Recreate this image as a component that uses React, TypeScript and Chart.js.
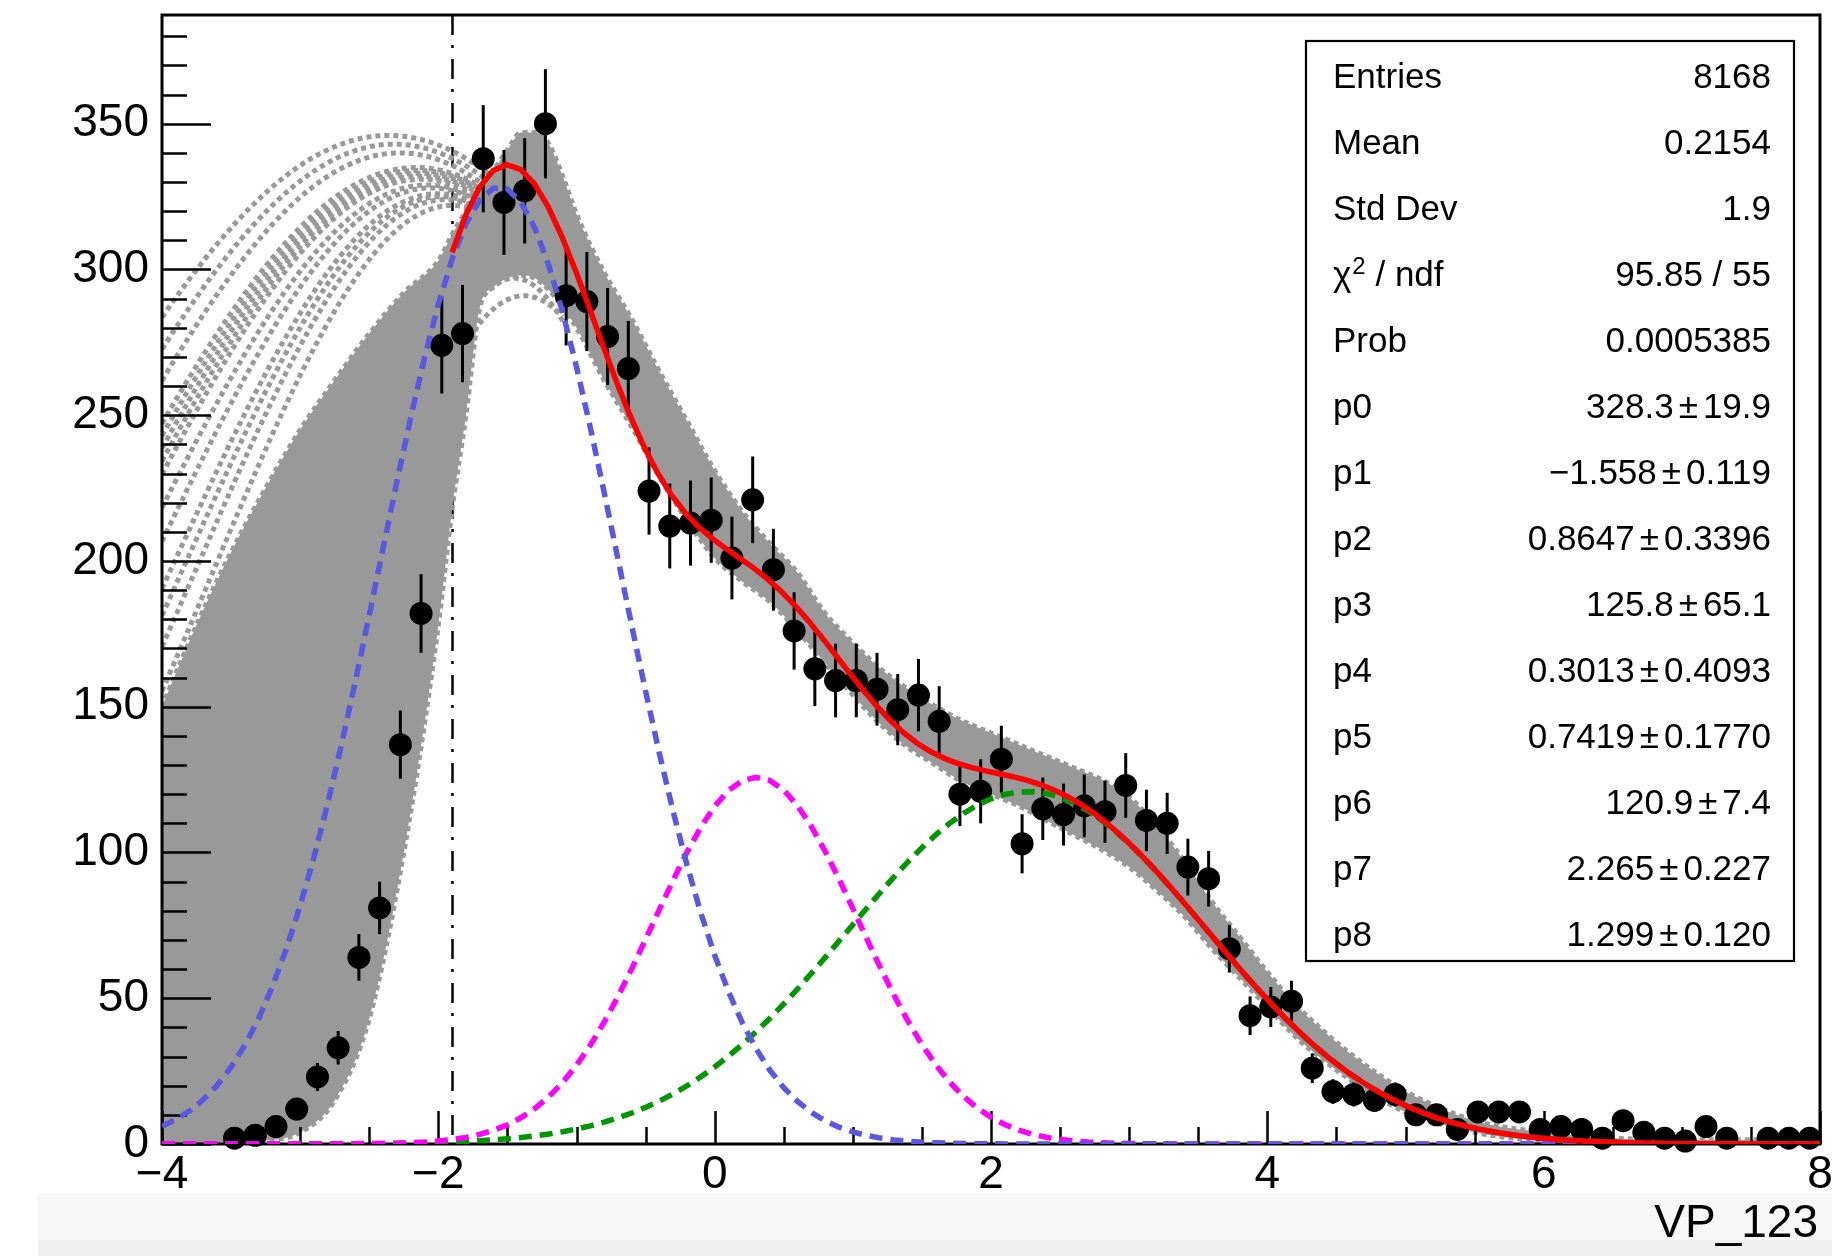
import React, { useEffect, useRef } from 'react';
import { Chart, registerables } from 'chart.js';

Chart.register(...registerables);

// ---- histogram of VP_123 -------------------------------------------------
const HIST_MIN = -4;
const HIST_MAX = 8;
const BIN_WIDTH = 0.15;
const Y_MAX = 387.3;

// entries per bin, 80 bins from -4 to 8
const binCounts = [
  0, 0, 0, 2, 3, 6, 12, 23, 33, 64,
  81, 137, 182, 274, 278, 338, 323, 327, 350, 291,
  289, 277, 266, 224, 212, 213, 214, 201, 221, 197,
  176, 163, 159, 159, 156, 149, 154, 145, 120, 121,
  132, 103, 115, 113, 116, 114, 123, 111, 110, 95,
  91, 67, 44, 47, 49, 26, 18, 17, 15, 17,
  10, 10, 5, 11, 11, 11, 5, 6, 5, 2,
  8, 4, 2, 1, 6, 2, 0, 2, 2, 2,
];

// ---- fit: three gaussians, p0..p8 ------------------------------------------
const fitParams = [328.3, -1.558, 0.8647, 125.8, 0.3013, 0.7419, 120.9, 2.265, 1.299];
const fitErrors = [19.9, 0.119, 0.3396, 65.1, 0.4093, 0.177, 7.4, 0.227, 0.12];
const fitDigits = [1, 3, 4, 1, 4, 4, 1, 3, 3];
const fitRange = [-1.9, 8];

// statistics box
const statEntries = 8168;
const statMean = '0.2154';
const statStdDev = '1.9';
const statChi2 = '95.85';
const statNdf = 55;
const statProb = '0.0005385';

// ---- spread of fit variations (grey band) ----------------------------------
const bandX = [
  -4, -3.75, -3.5, -3.25, -3, -2.75, -2.5, -2.25, -2, -1.9, -1.8, -1.7, -1.6, -1.5,
  -1.4, -1.3, -1.2, -1.1, -1.0, -0.8, -0.6, -0.4, -0.2, 0, 0.2, 0.4, 0.6, 0.8,
  1.0, 1.2, 1.4, 1.6, 1.8, 2.0, 2.2, 2.4, 2.6, 2.8, 3.0, 3.2, 3.4, 3.6, 3.8,
  4.0, 4.2, 4.4, 4.6, 4.8, 5.0, 5.5, 6.0, 6.5, 7.0, 7.5, 8.0,
];
const bandHi = [
  150, 178, 203, 225, 245, 262, 278, 292, 303, 312, 320, 327, 334, 341,
  347, 347, 343, 332, 319, 299, 283, 265, 248, 231, 217, 206, 196, 182,
  172, 163, 156, 150, 145, 141, 137, 133, 129, 125, 119, 109, 97, 83, 71,
  59, 48, 39, 31, 24, 18, 8, 4, 2, 1.5, 1.5, 1.5,
];
const bandLo = [
  0, 0, 0, 1, 4, 15, 43, 100, 178, 218, 250, 287, 294, 297,
  298, 297, 293, 287, 280, 262, 246, 229, 214, 201, 193, 186, 176, 165,
  154, 144, 136, 130, 124, 120, 116, 111, 106, 101, 95, 87, 78, 67, 57,
  47, 37, 29, 22, 16, 11, 4, 1, 0, 0, 0, 0,
];
// extrapolated variations left of the fit range: [amplitude, mean, sigma]
const fanArcs = [
  [346, -2.36, 2.6],
  [343, -2.32, 2.48],
  [340, -2.28, 2.38],
  [335, -2.16, 2.36],
  [334, -2.15, 2.32],
  [333, -2.14, 2.28],
  [332, -2.13, 2.24],
  [331, -2.12, 2.2],
  [329, -2.08, 2.12],
  [328, -2.05, 2.03],
  [326, -2.0, 1.93],
  [325, -1.98, 1.87],
  [324, -1.95, 1.81],
  [322, -1.9, 1.74],
];
const lowArcs = [
  [297, -1.45, 1.1],
  [291, -1.38, 1.25],
];

const xTickValues = [-4, -2, 0, 2, 4, 6, 8];
const yTickValues = [0, 50, 100, 150, 200, 250, 300, 350];
const X_MINOR = 0.5;
const Y_MINOR = 10;

const FONT = '"Liberation Sans", Arial, Helvetica, sans-serif';
const GREY = '#999999';

const gauss = (x: number, a: number, m: number, s: number) =>
  a * Math.exp(-0.5 * ((x - m) / s) ** 2);
const [p0, p1, p2, p3, p4, p5, p6, p7, p8] = fitParams;
const fitTotal = (x: number) => gauss(x, p0, p1, p2) + gauss(x, p3, p4, p5) + gauss(x, p6, p7, p8);

const sample = (fn: (x: number) => number, x0: number, x1: number, n: number) =>
  Array.from({ length: n + 1 }, (_, k) => {
    const x = x0 + ((x1 - x0) * k) / n;
    return { x, y: fn(x) };
  });

const minus = (s: string) => s.replace('-', '\u2212');

const binCenters = binCounts.map((_, i) => HIST_MIN + (i + 0.5) * BIN_WIDTH);
const pointData = binCounts.flatMap((c, i) => (c > 0 ? [{ x: binCenters[i], y: c }] : []));

const statRows: { label: string; value: string; err?: string }[] = [
  { label: 'Entries', value: String(statEntries) },
  { label: 'Mean', value: statMean },
  { label: 'Std Dev', value: statStdDev },
  { label: 'CHI2', value: `${statChi2} / ${statNdf}` },
  { label: 'Prob', value: statProb },
  ...fitParams.map((v, i) => ({
    label: `p${i}`,
    value: minus(v.toFixed(fitDigits[i])),
    err: fitErrors[i].toFixed(fitDigits[i]),
  })),
];

const lineBase = { showLine: true, pointRadius: 0, pointHoverRadius: 0, fill: false, tension: 0 };

function drawFrame(chart: any) {
  const { ctx, chartArea: a, scales } = chart;
  const xs = scales.x;
  const ys = scales.y;
  ctx.save();
  ctx.strokeStyle = '#000';
  ctx.lineWidth = 3;
  ctx.strokeRect(a.left, a.top, a.right - a.left, a.bottom - a.top);
  ctx.lineWidth = 2.5;
  for (let v = 0; v <= Y_MAX; v += Y_MINOR) {
    const py = Math.round(ys.getPixelForValue(v)) + 0.5;
    const len = yTickValues.includes(v) ? 49 : 25;
    ctx.beginPath();
    ctx.moveTo(a.left, py);
    ctx.lineTo(a.left + len, py);
    ctx.stroke();
  }
  for (let v = HIST_MIN; v <= HIST_MAX; v += X_MINOR) {
    const px = Math.round(xs.getPixelForValue(v)) + 0.5;
    const len = xTickValues.includes(v) ? 33 : 17;
    ctx.beginPath();
    ctx.moveTo(px, a.bottom);
    ctx.lineTo(px, a.bottom - len);
    ctx.stroke();
  }
  ctx.restore();
}

function drawErrorBars(chart: any) {
  const { ctx, scales } = chart;
  ctx.save();
  ctx.strokeStyle = '#000';
  ctx.lineWidth = 3;
  pointData.forEach((p) => {
    const e = Math.sqrt(p.y);
    const px = scales.x.getPixelForValue(p.x);
    ctx.beginPath();
    ctx.moveTo(px, scales.y.getPixelForValue(p.y + e));
    ctx.lineTo(px, scales.y.getPixelForValue(Math.max(p.y - e, 0)));
    ctx.stroke();
  });
  ctx.restore();
}

function drawStats(chart: any) {
  const { ctx } = chart;
  const box = { left: 1306, top: 41, right: 1794, bottom: 961 };
  const labelX = 1333;
  const valueRight = 1771;
  const base0 = 88.3;
  const step = 66;
  ctx.save();
  ctx.fillStyle = '#ffffff';
  ctx.fillRect(box.left, box.top, box.right - box.left, box.bottom - box.top);
  ctx.strokeStyle = '#000';
  ctx.lineWidth = 2.2;
  ctx.strokeRect(box.left, box.top, box.right - box.left, box.bottom - box.top);
  ctx.fillStyle = '#000';
  ctx.textBaseline = 'alphabetic';
  const f = `35px ${FONT}`;
  statRows.forEach((row, i) => {
    const y = base0 + i * step;
    ctx.font = f;
    ctx.textAlign = 'left';
    if (row.label === 'CHI2') {
      ctx.fillText('\u03C7', labelX, y);
      const w = ctx.measureText('\u03C7').width;
      ctx.font = `24px ${FONT}`;
      ctx.fillText('2', labelX + w + 1, y - 12);
      const w2 = ctx.measureText('2').width;
      ctx.font = f;
      ctx.fillText(' / ndf', labelX + w + w2 + 1, y);
    } else {
      ctx.fillText(row.label, labelX, y);
    }
    ctx.textAlign = 'right';
    if (row.err) {
      ctx.fillText(row.err, valueRight, y);
      const ew = ctx.measureText(row.err).width;
      const pmRight = valueRight - ew - 5;
      ctx.fillText('\u00B1', pmRight, y);
      const pw = ctx.measureText('\u00B1').width;
      ctx.fillText(row.value, pmRight - pw - 5, y);
    } else {
      ctx.fillText(row.value, valueRight, y);
    }
  });
  ctx.restore();
}

const histPlugin = {
  id: 'histDecor',
  beforeDraw(chart: any) {
    const { ctx } = chart;
    ctx.save();
    ctx.fillStyle = '#f7f7f7';
    ctx.fillRect(38, 1193, 1794, 47);
    ctx.fillStyle = '#f0f0f0';
    ctx.fillRect(38, 1240, 1794, 16);
    ctx.restore();
  },
  beforeDatasetsDraw(chart: any) {
    const { ctx, chartArea: a, scales } = chart;
    const px = Math.round(scales.x.getPixelForValue(fitRange[0])) + 0.5;
    ctx.save();
    ctx.strokeStyle = '#000';
    ctx.lineWidth = 2.5;
    ctx.setLineDash([20, 10, 3, 11]);
    ctx.beginPath();
    ctx.moveTo(px, a.top);
    ctx.lineTo(px, a.bottom);
    ctx.stroke();
    ctx.restore();
    chart.$frameDone = false;
  },
  beforeDatasetDraw(chart: any, args: any) {
    if (chart.data.datasets[args.index].label === 'data' && !chart.$frameDone) {
      drawFrame(chart);
      drawErrorBars(chart);
      chart.$frameDone = true;
    }
  },
  afterDatasetsDraw(chart: any) {
    drawStats(chart);
  },
  afterDraw(chart: any) {
    const { ctx } = chart;
    ctx.save();
    ctx.fillStyle = '#000';
    ctx.font = `46px ${FONT}`;
    ctx.textAlign = 'right';
    ctx.textBaseline = 'alphabetic';
    ctx.fillText('VP_123', 1818, 1237);
    ctx.restore();
  },
};

export default function App() {
  const ref = useRef<HTMLCanvasElement>(null);

  useEffect(() => {
    const canvas = ref.current;
    if (!canvas) return;

    const dashed = { borderWidth: 5.5, borderDash: [13, 8] };
    const dotted = { borderColor: GREY, borderWidth: 5, borderDash: [5, 4] };

    const datasets: any[] = [
      {
        ...lineBase,
        ...dotted,
        label: 'band',
        data: bandX.map((x, i) => ({ x, y: bandHi[i] })),
        fill: '+1',
        backgroundColor: GREY,
        cubicInterpolationMode: 'monotone',
        order: 10,
      },
      {
        ...lineBase,
        ...dotted,
        label: 'bandLo',
        data: bandX.map((x, i) => ({ x, y: bandLo[i] })),
        cubicInterpolationMode: 'monotone',
        order: 10,
      },
      ...fanArcs.map(([a, m, s], k) => ({
        ...lineBase,
        ...dotted,
        label: `fan${k}`,
        data: sample((x) => gauss(x, a, m, s), HIST_MIN, -1.62, 60),
        order: 9,
      })),
      ...lowArcs.map(([a, m, s], k) => ({
        ...lineBase,
        ...dotted,
        label: `low${k}`,
        data: sample((x) => gauss(x, a, m, s), -1.85, -1.1, 20),
        order: 9,
      })),
      {
        label: 'data',
        data: pointData,
        showLine: false,
        pointRadius: 11.5,
        pointHoverRadius: 11.5,
        pointBackgroundColor: '#000',
        pointBorderWidth: 0,
        backgroundColor: '#000',
        borderColor: '#000',
        clip: false,
        order: 5,
      },
      {
        ...lineBase,
        ...dashed,
        label: 'gaus1',
        data: sample((x) => gauss(x, p0, p1, p2), HIST_MIN, HIST_MAX, 120),
        borderColor: 'rgb(88, 88, 224)',
        order: 3,
      },
      {
        ...lineBase,
        ...dashed,
        label: 'gaus2',
        data: sample((x) => gauss(x, p3, p4, p5), HIST_MIN, HIST_MAX, 120),
        borderColor: '#ff00ff',
        order: 3,
      },
      {
        ...lineBase,
        ...dashed,
        label: 'gaus3',
        data: sample((x) => gauss(x, p6, p7, p8), HIST_MIN, HIST_MAX, 120),
        borderColor: 'rgb(0, 150, 0)',
        order: 3,
      },
      {
        ...lineBase,
        label: 'fit',
        data: sample(fitTotal, fitRange[0], fitRange[1], 100),
        borderColor: '#ff0000',
        borderWidth: 5.5,
        order: 1,
      },
    ];

    const tickFont = { family: FONT, size: 46 };

    const chart = new Chart(canvas, {
      type: 'line',
      data: { datasets },
      options: {
        responsive: false,
        maintainAspectRatio: false,
        animation: false,
        devicePixelRatio: 1,
        events: [],
        layout: { padding: { left: 0, top: 15, right: 23, bottom: 0 } },
        plugins: { legend: { display: false }, tooltip: { enabled: false } },
        scales: {
          x: {
            type: 'linear',
            min: HIST_MIN,
            max: HIST_MAX,
            grid: { display: false, drawTicks: false },
            border: { display: false },
            afterBuildTicks: (s: any) => {
              s.ticks = xTickValues.map((value) => ({ value }));
            },
            afterFit: (s: any) => {
              s.height = 112;
              s.paddingLeft = 0;
              s.paddingRight = 0;
            },
            ticks: {
              autoSkip: false,
              maxRotation: 0,
              minRotation: 0,
              padding: 4,
              color: '#000',
              font: tickFont,
              callback: (v: any) => minus(String(v)),
            },
          },
          y: {
            type: 'linear',
            min: 0,
            max: Y_MAX,
            grid: { display: false, drawTicks: false },
            border: { display: false },
            afterBuildTicks: (s: any) => {
              s.ticks = yTickValues.map((value) => ({ value }));
            },
            afterFit: (s: any) => {
              s.width = 162;
              s.paddingTop = 0;
              s.paddingBottom = 0;
            },
            ticks: {
              padding: 13,
              color: '#000',
              font: tickFont,
              callback: (v: any) => String(v),
            },
          },
        },
      } as any,
      plugins: [histPlugin],
    });

    return () => chart.destroy();
  }, []);

  return (
    <div style={{ position: 'absolute', left: 0, top: 0, width: 1843, height: 1256, background: '#fff' }}>
      <canvas ref={ref} width={1843} height={1256} style={{ width: 1843, height: 1256, display: 'block' }} />
    </div>
  );
}
